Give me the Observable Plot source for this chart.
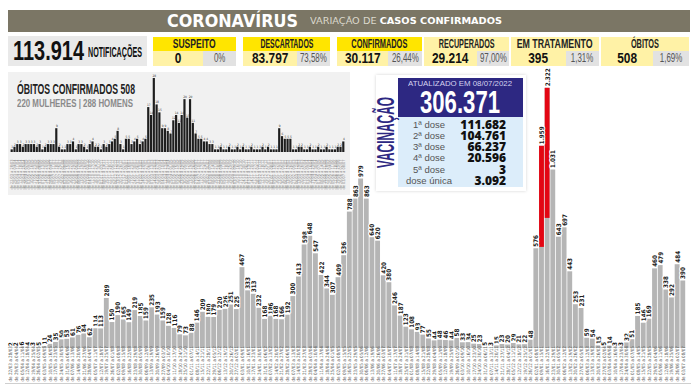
<!DOCTYPE html>
<html><head><meta charset="utf-8">
<script src="https://cdn.jsdelivr.net/npm/d3@7"></script>
<script src="https://cdn.jsdelivr.net/npm/@observablehq/plot@0.6"></script>
<style>
body{margin:0;background:#fff;}
#wrap{position:relative;width:696px;height:385px;overflow:hidden;font-family:"Liberation Sans",Arial,sans-serif;}
.a{position:absolute;box-sizing:border-box;}
.cell{display:flex;align-items:center;justify-content:center;white-space:nowrap;overflow:visible;}
</style></head><body><div id="wrap"></div>
<script>
// ---------- data ----------
const casos = [2,2,6,4,3,5,
 11,24,35,50,53,61,76,84,62,114,
 113,289,150,190,165,149,219,185,159,235,
 193,159,128,116,79,73,88,146,209,180,
 179,220,226,251,225,467,333,313,232,168,
 186,168,166,192,300,413,598,648,547,422,
 344,307,409,536,788,863,979,863,640,620,
 420,380,246,187,123,108,93,77,55,44,
 48,46,44,58,33,34,25,23,5,3,
 15,23,20,29,21,22,48,576,1959,2322,
 1031,643,697,443,253,231,59,54,15,5,
 14,3,3,32,51,185,146,169,460,479,
 338,292,484,390];
const obitos = [1,2,3,3,2,3,3,3,3,2,3,1,2,3,3,3,
 9,
 2,1,1,3,3,4,1,3,3,2,1,3,
 4,2,2,1,3,2,3,4,5,8,3,1,
 5,5,3,4,5,3,4,5,
 17,14,28,18,15,9,9,8,7,12,14,11,14,20,13,20,11,
 7,5,5,4,4,3,3,1,
 1,2,1,1,2,1,1,2,1,2,1,1,2,1,1,1,2,1,2,1,1,1,
 9,6,5,5,5,
 1,1,2,2,1,1,2,1,1,2,1,1,2,1,1,1,2,2,4];
const firstWeek = "2020-03-22";
const lastDate = "2022-07-08";
const statNames = ["SUSPEITO","DESCARTADOS","CONFIRMADOS","RECUPERADOS","EM TRATAMENTO","ÓBITOS"];
const statValues = ["0","83.797","30.117","29.214","395","508"];
const statPcts = ["0%","73,58%","26,44%","97,00%","1,31%","1,69%"];
const notificacoes = "113.914";
const doseLabels = ["1ª dose","2ª dose","3ª dose","4ª dose","5ª dose","dose única"];
const doseValues = ["111.682","104.761","66.237","20.596","3","3.092"];
const vacTotal = "306.371";
const vacUpdated = "ATUALIZADO EM 08/07/2022";
const obitosTitle = "ÓBITOS CONFIRMADOS 508";
const obitosSub = "220 MULHERES | 288 HOMENS";

// ---------- helpers ----------
const parse = d3.utcParse("%Y-%m-%d");
const dm = d3.utcFormat("%d/%m");
const weekLabels = casos.map((_, i) => {
  const s = d3.utcDay.offset(parse(firstWeek), 7 * i);
  let e = d3.utcDay.offset(s, 6);
  if (e > parse(lastDate)) e = parse(lastDate);
  return `de ${dm(s)} a ${dm(e)}`;
});
const fmt = d3.formatLocale({decimal: ",", thousands: ".", grouping: [3], currency: ["R$", ""]}).format(",d");
const breakAt = 1500;               // axis break for the two largest weeks
const shown = v => v > breakAt ? Math.round(0.923 * v - 640) : v;
const rows = casos.map((v, i) => ({i, v, label: weekLabels[i], ob: obitos[i]}));
const NARROW = "DejaVu Sans Condensed, Liberation Sans Narrow, Liberation Sans, sans-serif";

const wrap = document.getElementById("wrap");

// ---------- main chart ----------
const main = Plot.plot({
  width: 696, height: 385,
  marginLeft: 7, marginRight: 10, marginTop: 71, marginBottom: 37,
  x: {type: "band", domain: d3.range(casos.length), padding: 0.14, axis: null},
  y: {domain: [0, 1600], axis: null},
  style: {background: "transparent", overflow: "visible"},
  marks: [
    Plot.barY(rows, {x: "i", y1: 0, y2: d => shown(d.v), fill: "#b5b5b5"}),
    Plot.barY(rows.filter(d => d.v > breakAt), {x: "i", y1: d => shown(d.v) / 2, y2: d => shown(d.v), fill: "#e30613"}),
    Plot.text(rows, {x: "i", y: d => shown(d.v), text: d => fmt(d.v), rotate: -90, textAnchor: "start", dy: -2,
      fontSize: 6.3, fontWeight: "bold", fill: "#222", stroke: "white", strokeWidth: 2.2, fontFamily: NARROW}),
    Plot.text(rows, {x: "i", y: 0, text: "label", rotate: -90, textAnchor: "start", dy: 33,
      fontSize: 4.6, fill: "#555", fontFamily: NARROW})
  ]
});
main.style.position = "absolute"; main.style.left = "0px"; main.style.top = "0px";
wrap.appendChild(main);

function div(css, html = "", cls = "a") {
  const d = document.createElement("div");
  d.className = cls; d.style.cssText = css; d.innerHTML = html;
  wrap.appendChild(d); return d;
}
// span squeezed horizontally to a target width
function squeeze(parent, html, css, targetW, origin = "center") {
  const s = document.createElement("span");
  s.style.cssText = "display:block;width:max-content;white-space:nowrap;" + css;
  s.innerHTML = html;
  parent.appendChild(s);
  const w = s.getBoundingClientRect().width;
  s.style.transformOrigin = origin;
  s.style.transform = `scaleX(${targetW / w})`;
  return s;
}
// free text: left edge x (or center), top y, squeezed to width
function ftext(x, y, html, css, targetW, anchor = "start") {
  const d = div(`left:${x}px;top:${y}px;white-space:nowrap;`);
  squeeze(d, html, css, targetW, "left");
  d.style.width = targetW + "px";
  d.style.overflow = "visible";
  if (anchor === "middle") d.style.left = (x - targetW / 2) + "px";
  if (anchor === "end") d.style.left = (x - targetW) + "px";
  return d;
}

// bottom line
div("left:5px;top:383px;width:686px;height:1px;background:#cfcfcf;");

// ---------- header ----------
div("left:8px;top:10px;width:682px;height:22px;background:#7b7665;");
ftext(167, 9, "CORONAVÍRUS", "font-family:'DejaVu Sans',sans-serif;font-weight:bold;font-size:18px;line-height:24px;color:#fff;", 131);
ftext(310, 11, "VARIAÇÃO DE <b style='color:#fff'>CASOS CONFIRMADOS</b>", "font-family:'DejaVu Sans',sans-serif;font-size:9.5px;line-height:20px;color:#dcd9cd;", 192);

div("left:8px;top:36px;width:139px;height:30px;background:#e9e9e9;");
ftext(13, 36, notificacoes, "font-weight:bold;font-size:28px;line-height:30px;color:#111;", 71);
ftext(88, 36, "NOTIFICAÇÕES", "font-weight:bold;font-size:15px;line-height:32px;color:#111;", 54);

const boxX = [153, 243, 337, 424, 511, 601];
const boxR = [236, 330, 422, 509, 599, 689];
const splitX = [203, 297, 388, 477, 566, 653];
const nameW = [43, 53, 56, 56, 76, 28];
statNames.forEach((n, k) => {
  const x0 = boxX[k], x1 = boxR[k], sx = splitX[k];
  const hdBg = k < 3 ? "#ffe500" : "#fff2a6";
  const h = div(`left:${x0}px;top:37px;width:${x1 - x0}px;height:14px;background:${hdBg};`, "", "a cell");
  squeeze(h, n, "font-weight:bold;font-size:12px;line-height:14px;color:#222;", nameW[k]);
  const v = div(`left:${x0}px;top:51px;width:${sx - x0}px;height:15px;background:#fff2a6;`, "", "a cell");
  const vs = squeeze(v, statValues[k], "font-weight:bold;font-size:14.5px;line-height:15px;color:#111;", 1);
  vs.style.transform = "scaleX(0.82)";
  const p = div(`left:${sx}px;top:51px;width:${x1 - sx}px;height:15px;background:#e2e2e2;`, "", "a cell");
  const ps = squeeze(p, statPcts[k], "font-size:12px;line-height:15px;color:#555;", 1);
  ps.style.transform = "scaleX(0.66)";
});

// ---------- óbitos inset ----------
div("left:8px;top:72px;width:342px;height:123px;background:#f1f1f1;");
const inset = Plot.plot({
  width: 342, height: 123,
  marginLeft: 2, marginRight: 5, marginTop: 6, marginBottom: 43,
  x: {type: "band", domain: d3.range(obitos.length), padding: 0.22, axis: null},
  y: {domain: [0, 28], axis: null},
  style: {background: "transparent", overflow: "visible"},
  marks: [
    Plot.barY(rows, {x: "i", y1: 0, y2: "ob", fill: "#1e1e1e"}),
    Plot.text(rows, {x: "i", y: "ob", text: d => String(d.ob), dy: -2.5, fontSize: 3.2, fill: "#333", fontFamily: NARROW}),
    Plot.text(rows, {x: "i", y: 0, text: "label", rotate: -90, textAnchor: "start", dy: 37, fontSize: 3.9, fill: "#888", fontFamily: NARROW})
  ]
});
inset.style.position = "absolute"; inset.style.left = "8px"; inset.style.top = "72px";
wrap.appendChild(inset);
ftext(17, 81, obitosTitle, "font-weight:bold;font-size:14px;line-height:16px;color:#222;", 118);
ftext(17, 97, obitosSub, "font-weight:bold;font-size:11.5px;line-height:13px;color:#8a8a8a;", 116);

// ---------- vacinação card ----------
div("left:376px;top:75px;width:150px;height:116px;background:#fff;box-shadow:0 0 3px rgba(0,0,0,0.18);");
div("left:398px;top:78px;width:125px;height:39px;background:#2d2882;");
div("left:398px;top:117px;width:125px;height:70px;background:#dcedfa;");
ftext(460, 79, vacUpdated, "font-size:7.6px;line-height:9px;color:#d5d3f0;", 104, "middle");
ftext(460, 89, vacTotal, "font-weight:bold;font-size:31px;line-height:28px;color:#fff;", 80, "middle");
// rotated title
{
  const d = div("left:0px;top:0px;white-space:nowrap;");
  const s = document.createElement("span");
  s.style.cssText = "display:block;width:max-content;white-space:nowrap;font-weight:bold;font-size:23px;line-height:23px;color:#2d2882;";
  s.textContent = "VACINAÇÃO";
  d.appendChild(s);
  const r = s.getBoundingClientRect();
  d.style.left = (387 - r.width / 2) + "px";
  d.style.top = (132 - r.height / 2) + "px";
  d.style.transformOrigin = "center";
  d.style.transform = `rotate(-90deg) scaleX(${71 / r.width})`;
}
doseLabels.forEach((l, k) => {
  const yc = 124 + k * 11.3;
  div(`left:400px;top:${yc - 5.5}px;width:58px;height:11px;line-height:11px;text-align:center;font-size:9.5px;color:#555;white-space:nowrap;`, l);
  div(`left:460px;top:${yc - 5.5}px;width:46px;height:11px;line-height:11px;text-align:right;font-family:'Open Sans',sans-serif;font-weight:800;font-size:12px;color:#111;white-space:nowrap;`, doseValues[k]);
});
</script></body></html>
